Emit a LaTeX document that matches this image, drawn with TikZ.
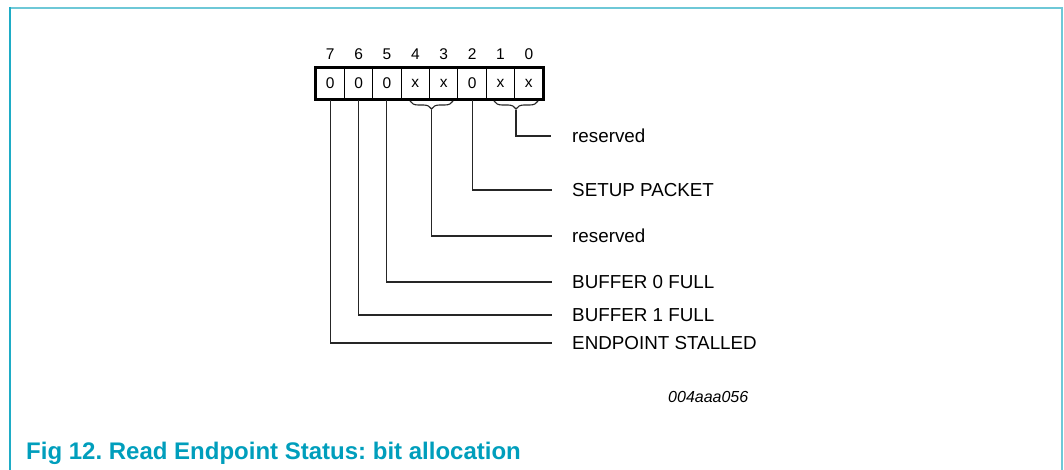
\documentclass[tikz,border=0pt]{standalone}
\usepackage{fontspec}
\setmainfont{Liberation Sans}
\usetikzlibrary{decorations.pathreplacing}
\definecolor{frameL}{RGB}{30,172,198}
\definecolor{frameT}{RGB}{110,200,215}
\definecolor{capc}{RGB}{0,158,188}
\frenchspacing
\begin{document}
\begin{tikzpicture}[x=1pt,y=-1pt,
  cell/.style={draw, line width=1.2pt, minimum width=28.375pt, minimum height=31pt, inner sep=0pt, font=\fontsize{15.5}{17}\selectfont},
  bitnum/.style={inner sep=0pt, font=\fontsize{15.5}{17}\selectfont},
  lbl/.style={anchor=west, inner sep=0pt, font=\fontsize{18.8}{21}\selectfont},
  conn/.style={line width=1.1pt, draw=black!85},
  bracestyle/.style={decorate, decoration={brace, mirror, amplitude=8pt}, line width=1.1pt, draw=black!85}]
\useasboundingbox (0,0) rectangle (1064,470);
% frame
\draw[frameT, line width=2pt] (9,8) -- (1062,8);
\draw[frameL, line width=2pt] (10,7) -- (10,470);
\draw[frameT, line width=2pt] (1062,7) -- (1062,470);
% cells
\foreach \k/\v/\b in {0/0/7,1/0/6,2/0/5,3/x/4,4/x/3,5/0/2,6/x/1,7/x/0}{
  \node[cell] (c\b) at ({316+28.375*(\k+0.5)},83.5) {\v};
  \node[bitnum] (n\b) at ({316+28.375*(\k+0.5)},54) {\b};
}
\draw[line width=2.2pt] (c7.north west) rectangle (c0.south east);
% braces
\coordinate (bA1) at (410,101);
\coordinate (bA2) at (453,101);
\coordinate (bB1) at (494,101);
\coordinate (bB2) at (538,101);
\draw[bracestyle] (bA1) -- (bA2);
\draw[bracestyle] (bB1) -- (bB2);
\coordinate (tA) at (431.5,110);
\coordinate (tB) at (516,110);
% label ends
\coordinate (e0) at (551,136);
\coordinate (e2) at (552,190);
\coordinate (e3) at (552,236);
\coordinate (e5) at (552,282);
\coordinate (e6) at (552,315);
\coordinate (e7) at (552,343);
\node[lbl] (L0) at (572,136) {reserved};
\node[lbl] (L2) at (572,190) {SETUP PACKET};
\node[lbl] (L3) at (572,236) {reserved};
\node[lbl] (L5) at (572,282) {BUFFER 0 FULL};
\node[lbl] (L6) at (572,315) {BUFFER 1 FULL};
\node[lbl] (L7) at (572,343) {ENDPOINT STALLED};
% connectors
\draw[conn] (tB) |- (e0);
\draw[conn] (c2.south) |- (e2);
\draw[conn] (tA) |- (e3);
\draw[conn] (c5.south) |- (e5);
\draw[conn] (c6.south) |- (e6);
\draw[conn] (c7.south) |- (e7);
% id
\node[anchor=base west, inner sep=0pt, font=\fontsize{16}{18}\selectfont\itshape] (id) at (668,402) {004aaa056};
% caption
\node[anchor=base west, inner sep=0pt, text=capc, font=\fontsize{24}{27}\selectfont\bfseries] (cap) at (26,459) {Fig 12. Read Endpoint Status: bit allocation};
\end{tikzpicture}
\end{document}
